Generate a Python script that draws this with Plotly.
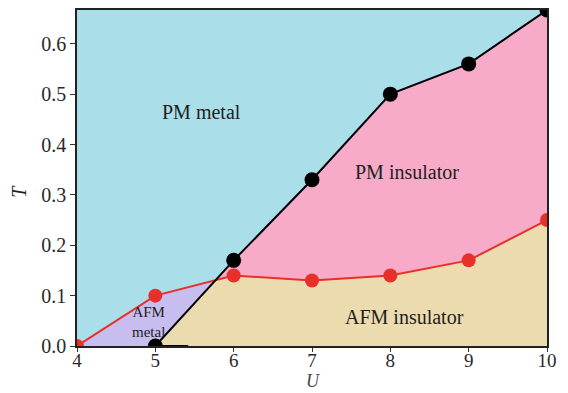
import numpy as np
import plotly.graph_objects as go

# Phase boundaries of the U-T diagram
u_mi = [5, 6, 7, 8, 9, 10]                 # metal-insulator boundary (black)
t_mi = [0.0, 0.17, 0.33, 0.50, 0.56, 0.667]
u_afm = [4, 5, 6, 7, 8, 9, 10]             # Neel line (red)
t_afm = [0.0, 0.10, 0.14, 0.13, 0.14, 0.17, 0.25]

u_ticks = [4, 5, 6, 7, 8, 9, 10]
t_ticks = [0.0, 0.1, 0.2, 0.3, 0.4, 0.5, 0.6]
t_max = 0.667

CYAN = "#AADEE9"
PINK = "#F8ABC8"
TAN = "#EBDBAF"
LAV = "#C7BDEE"

# crossing point of the two boundaries (between U=5 and U=6)
ua, ta = np.array(u_mi[:2]), np.array(t_mi[:2])
ub, tb = np.array(u_afm[1:3]), np.array(t_afm[1:3])
sa = (ta[1] - ta[0]) / (ua[1] - ua[0])
sb = (tb[1] - tb[0]) / (ub[1] - ub[0])
uc = (tb[0] - ta[0] + sa * ua[0] - sb * ub[0]) / (sa - sb)
tc = ta[0] + sa * (uc - ua[0])

fig = go.Figure()

# PM insulator region
px = [uc] + u_mi[1:] + u_afm[::-1][:-2] + [uc]
py = [tc] + t_mi[1:] + t_afm[::-1][:-2] + [tc]
fig.add_trace(go.Scatter(x=px, y=py, fill="toself", fillcolor=PINK,
                         line=dict(width=0), mode="lines", hoverinfo="skip"))
# AFM insulator region
ax_ = [u_mi[0], uc] + u_afm[2:] + [u_afm[-1], u_mi[0]]
ay_ = [t_mi[0], tc] + t_afm[2:] + [0.0, t_mi[0]]
fig.add_trace(go.Scatter(x=ax_, y=ay_, fill="toself", fillcolor=TAN,
                         line=dict(width=0), mode="lines", hoverinfo="skip"))
# AFM metal region
lx = u_afm[:2] + [uc, u_mi[0], u_afm[0]]
ly = t_afm[:2] + [tc, t_mi[0], t_afm[0]]
fig.add_trace(go.Scatter(x=lx, y=ly, fill="toself", fillcolor=LAV,
                         line=dict(width=0), mode="lines", hoverinfo="skip"))

# short stub along the U axis
fig.add_trace(go.Scatter(x=[5, 5.42], y=[0, 0], mode="lines",
                         line=dict(color="black", width=2), hoverinfo="skip"))

# boundaries
fig.add_trace(go.Scatter(x=u_afm, y=t_afm, mode="lines+markers",
                         line=dict(color="#E8302A", width=2),
                         marker=dict(color="#E8302A", size=14)))
fig.add_trace(go.Scatter(x=u_mi, y=t_mi, mode="lines+markers",
                         line=dict(color="black", width=2),
                         marker=dict(color="black", size=15)))

serif = "Liberation Serif, Times New Roman, serif"
labels = [
    (5.59, 0.465, "PM metal", 20),
    (8.21, 0.345, "PM insulator", 20),
    (8.18, 0.058, "AFM insulator", 20),
]
for x, y, s, fs in labels:
    fig.add_annotation(x=x, y=y, text=s, showarrow=False,
                       font=dict(family=serif, size=fs, color="#1e1e1e"))
fig.add_annotation(x=4.91, y=0.047, text="AFM<br>metal", showarrow=False,
                   font=dict(family=serif, size=15, color="#1e1e1e"))

# axis titles
PLOT_H = 393 - 10 - 47
fig.add_annotation(xref="paper", yref="paper", x=0.503, y=-46 / PLOT_H,
                   yanchor="bottom", borderpad=0,
                   text="<i>U</i>", showarrow=False,
                   font=dict(family=serif, size=18, color="#444"))
fig.add_annotation(xref="paper", yref="paper", x=-0.123, y=0.46, xanchor="center",
                   text="<i>T</i>", showarrow=False, textangle=-90,
                   font=dict(family=serif, size=20, color="#222"))

fig.update_layout(
    width=568, height=393,
    margin=dict(l=77, r=21, t=10, b=47, autoexpand=False),
    paper_bgcolor="white", plot_bgcolor=CYAN,
    showlegend=False,
    font=dict(family=serif, size=19, color="#2a2a2a"),
)
fig.update_xaxes(range=[4, 10], tickvals=u_ticks, ticktext=[str(v) for v in u_ticks],
                 ticks="outside", ticklen=4, tickcolor="#333", automargin=False,
                 tickfont=dict(size=19), ticklabelstandoff=-8,
                 showgrid=False, zeroline=False, showline=True, linecolor="#222",
                 linewidth=1.5, mirror=True)
fig.update_yaxes(range=[0, t_max], tickvals=t_ticks, ticktext=[f"{v:.1f}" for v in t_ticks],
                 ticks="outside", ticklen=5, tickcolor="#333", automargin=False,
                 tickfont=dict(size=20),
                 showgrid=False, zeroline=False, showline=True, linecolor="#222",
                 linewidth=1.5, mirror=True)

fig.write_html("out.html")
